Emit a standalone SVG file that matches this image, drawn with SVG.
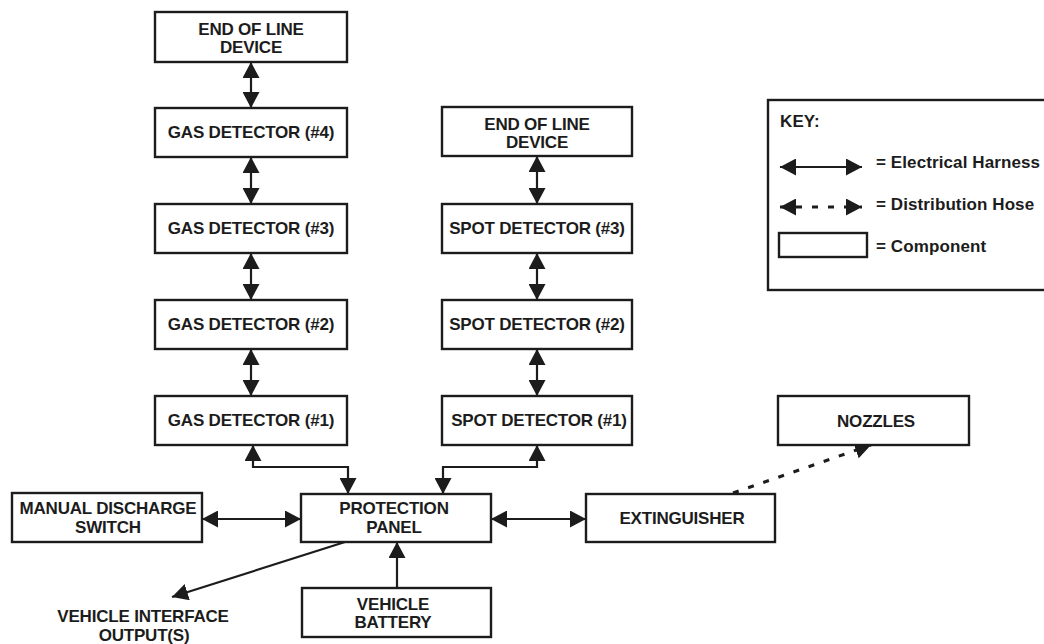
<svg xmlns="http://www.w3.org/2000/svg" width="1044" height="644" viewBox="0 0 1044 644">
<style>
.box{fill:#fff;stroke:#1c1c1c;stroke-width:2.4}
.lbl{font-family:"Liberation Sans",Arial,sans-serif;font-weight:bold;font-size:17px;letter-spacing:-0.2px;fill:#1c1c1c;text-anchor:middle}
.key{font-family:"Liberation Sans",Arial,sans-serif;font-weight:bold;font-size:17px;letter-spacing:0.1px;fill:#1c1c1c}
.wire{fill:none;stroke:#1c1c1c;stroke-width:2.2}
.hose{fill:none;stroke:#1c1c1c;stroke-width:3;stroke-dasharray:6 10}
</style>
<defs>
<marker id="ah" markerUnits="userSpaceOnUse" markerWidth="17" markerHeight="17" viewBox="0 0 17 17" refX="16" refY="8.5" orient="auto-start-reverse">
<path d="M0,0 L16,8.5 L0,17 Z" fill="#1c1c1c"/>
</marker>
</defs>
<rect width="1044" height="644" fill="#fff"/>

<g id="connectors">
<line class="wire" x1="251" y1="62" x2="251" y2="108" marker-start="url(#ah)" marker-end="url(#ah)"/>
<line class="wire" x1="251" y1="157" x2="251" y2="204" marker-start="url(#ah)" marker-end="url(#ah)"/>
<line class="wire" x1="251" y1="253" x2="251" y2="300" marker-start="url(#ah)" marker-end="url(#ah)"/>
<line class="wire" x1="251" y1="349" x2="251" y2="396" marker-start="url(#ah)" marker-end="url(#ah)"/>
<line class="wire" x1="537" y1="156" x2="537" y2="204" marker-start="url(#ah)" marker-end="url(#ah)"/>
<line class="wire" x1="537" y1="253" x2="537" y2="300" marker-start="url(#ah)" marker-end="url(#ah)"/>
<line class="wire" x1="537" y1="349" x2="537" y2="396" marker-start="url(#ah)" marker-end="url(#ah)"/>
<path class="wire" d="M253,445 L253,467 L348,467 L348,494" marker-start="url(#ah)" marker-end="url(#ah)"/>
<path class="wire" d="M537,445 L537,467 L443,467 L443,494" marker-start="url(#ah)" marker-end="url(#ah)"/>
<line class="wire" x1="202" y1="519" x2="301" y2="519" marker-start="url(#ah)" marker-end="url(#ah)"/>
<line class="wire" x1="491" y1="519" x2="586" y2="519" marker-start="url(#ah)" marker-end="url(#ah)"/>
<line class="wire" x1="397" y1="588" x2="397" y2="542" marker-end="url(#ah)"/>
<line class="wire" x1="345" y1="542" x2="172" y2="597" marker-end="url(#ah)"/>
<line class="hose" x1="733" y1="493" x2="871" y2="445" marker-end="url(#ah)"/>
</g>

<g id="eol-left"><rect class="box" x="155" y="12" width="192" height="50"/>
<text class="lbl" x="251" y="35">END OF LINE</text><text class="lbl" x="251" y="53">DEVICE</text></g>
<g id="gas4"><rect class="box" x="155" y="108" width="192" height="49"/><text class="lbl" x="251" y="138">GAS DETECTOR (#4)</text></g>
<g id="gas3"><rect class="box" x="155" y="204" width="192" height="49"/><text class="lbl" x="251" y="234">GAS DETECTOR (#3)</text></g>
<g id="gas2"><rect class="box" x="155" y="300" width="192" height="49"/><text class="lbl" x="251" y="330">GAS DETECTOR (#2)</text></g>
<g id="gas1"><rect class="box" x="155" y="396" width="192" height="49"/><text class="lbl" x="251" y="426">GAS DETECTOR (#1)</text></g>

<g id="eol-right"><rect class="box" x="442" y="107" width="190" height="49"/>
<text class="lbl" x="537" y="130">END OF LINE</text><text class="lbl" x="537" y="148">DEVICE</text></g>
<g id="spot3"><rect class="box" x="442" y="204" width="190" height="49"/><text class="lbl" x="537" y="234">SPOT DETECTOR (#3)</text></g>
<g id="spot2"><rect class="box" x="442" y="300" width="190" height="49"/><text class="lbl" x="537" y="330">SPOT DETECTOR (#2)</text></g>
<g id="spot1"><rect class="box" x="442" y="396" width="190" height="49"/><text class="lbl" x="539" y="426">SPOT DETECTOR (#1)</text></g>

<g id="manual"><rect class="box" x="12" y="493" width="190" height="49"/>
<text class="lbl" x="108" y="514">MANUAL DISCHARGE</text><text class="lbl" x="108" y="533">SWITCH</text></g>
<g id="panel"><rect class="box" x="301" y="494" width="190" height="48"/>
<text class="lbl" x="394" y="514">PROTECTION</text><text class="lbl" x="394" y="533">PANEL</text></g>
<g id="battery"><rect class="box" x="302" y="588" width="189" height="49"/>
<text class="lbl" x="393" y="610">VEHICLE</text><text class="lbl" x="393" y="628">BATTERY</text></g>
<g id="extinguisher"><rect class="box" x="586" y="494" width="189" height="48"/><text class="lbl" x="682" y="524">EXTINGUISHER</text></g>
<g id="nozzles"><rect class="box" x="778" y="396" width="191" height="49"/><text class="lbl" x="876" y="427">NOZZLES</text></g>
<g id="vio"><text class="lbl" x="143" y="622">VEHICLE INTERFACE</text><text class="lbl" x="144" y="641">OUTPUT(S)</text></g>

<g id="key">
<rect class="box" x="768" y="100" width="290" height="190"/>
<text class="key" x="780" y="127">KEY:</text>
<line class="wire" x1="780" y1="167" x2="862" y2="167" marker-start="url(#ah)" marker-end="url(#ah)"/>
<text class="key" x="876" y="168">= Electrical Harness</text>
<line class="hose" x1="780" y1="207" x2="862" y2="207" stroke-dasharray="0 33 5 14 5 40" stroke-width="2.5" marker-start="url(#ah)" marker-end="url(#ah)"/>
<text class="key" x="876" y="210">= Distribution Hose</text>
<rect class="box" x="779" y="233" width="88" height="24"/>
<text class="key" x="876" y="252">= Component</text>
</g>
</svg>
